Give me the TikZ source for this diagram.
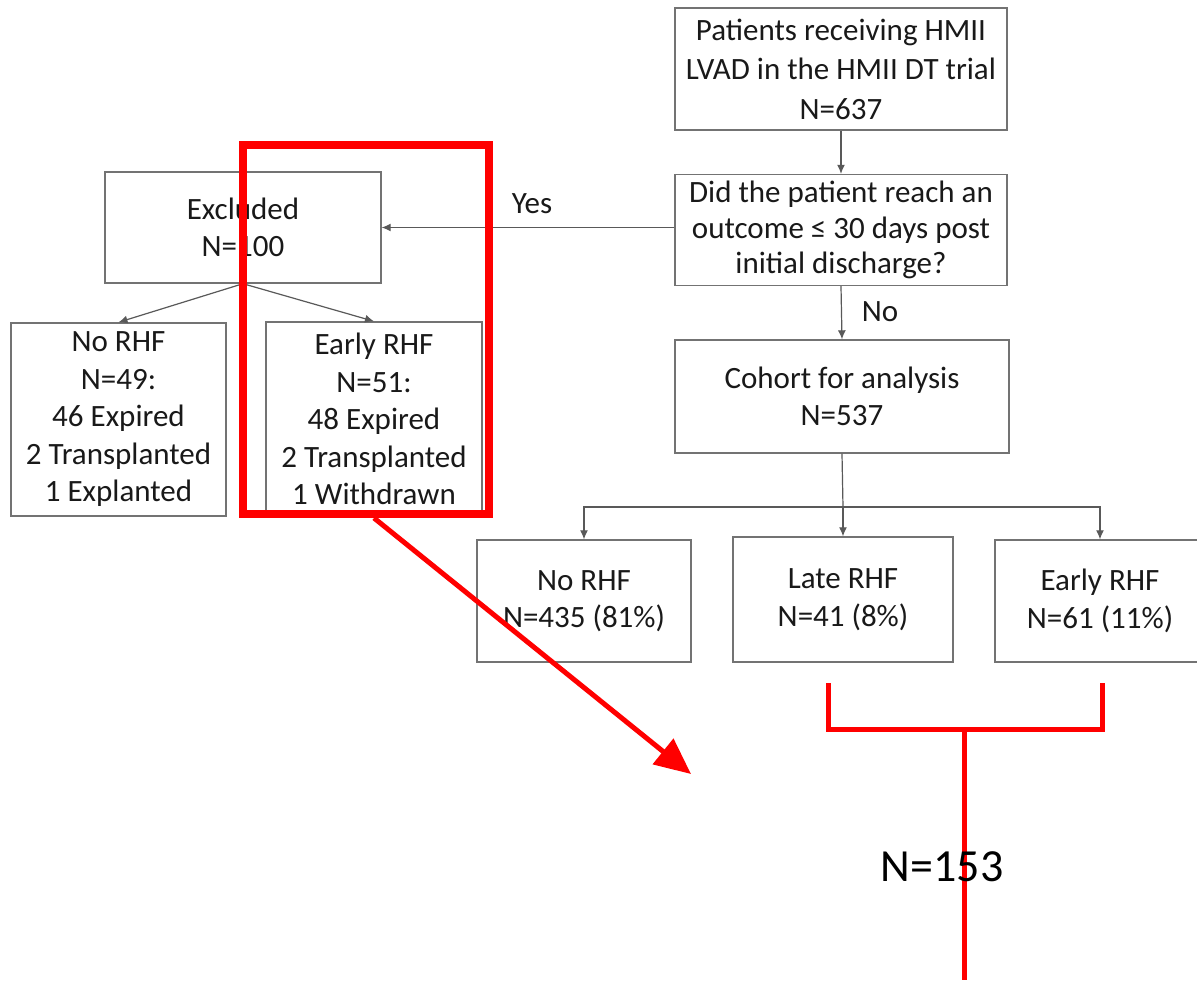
\documentclass[tikz,border=0pt]{standalone}
\usepackage{fontspec}
\setmainfont{Carlito}
\usetikzlibrary{arrows.meta}
\begin{document}
\begin{tikzpicture}[x=1pt,y=-1pt,
  box/.style={draw=black!55, line width=1.4pt, fill=white, align=center, inner sep=0pt,
    font=\fontsize{31}{37.5}\selectfont, text=black!90},
  conn/.style={draw=black!65, line width=1.2pt, -{Latex[length=9pt,width=8pt]}},
  lbl/.style={font=\fontsize{31}{37.5}\selectfont, text=black!90},
  hi/.style={draw=red, line width=8pt},
  hiline/.style={draw=red, line width=5pt}]
\useasboundingbox (0,0) rectangle (1197,981);
\fill[white] (0,0) rectangle (1197,981);

\node[box, minimum width=332, minimum height=122, font=\fontsize{31}{39.5}\selectfont] (top) at (841,69)
  {Patients receiving HMII\\LVAD in the HMII DT trial\\N=637};
\node[box, minimum width=332, minimum height=111, font=\fontsize{31}{35.5}\selectfont] (dec) at (841,230)
  {Did the patient reach an\\outcome ≤ 30 days post\\initial discharge?};
\node[box, minimum width=276, minimum height=111] (excl) at (243,227.5)
  {Excluded\\N=100};
\node[box, minimum width=215, minimum height=193] (noL) at (118.5,419.5)
  {No RHF\\N=49:\\46 Expired\\2 Transplanted\\1 Explanted};
\node[box, minimum width=216, minimum height=194] (earlyL) at (374,419)
  {Early RHF\\N=51:\\48 Expired\\2 Transplanted\\1 Withdrawn};
\node[box, minimum width=334, minimum height=113] (coh) at (842,396.5)
  {Cohort for analysis\\N=537};
\node[box, minimum width=214, minimum height=122] (noB) at (584,601)
  {No RHF\\N=435 (81\%)};
\node[box, minimum width=220, minimum height=125] (late) at (843,599.5)
  {Late RHF\\N=41 (8\%)};
\node[box, minimum width=210, minimum height=122] (earlyB) at (1100,601)
  {Early RHF\\N=61 (11\%)};

\draw[conn] (top.south) -- (dec.north);
\draw[conn] (dec.west |- excl.east) -- (excl.east);
\node[lbl] (yes) at (532,204) {Yes};
\draw[conn] (excl.south) -- (noL.north);
\draw[conn] (excl.south) -- (earlyL.north);
\draw[conn] (dec.south) -- (coh.north);
\node[lbl] (no) at (880,312) {No};
\coordinate (br) at (843,507);
\draw[draw=black!65, line width=1.2pt] (coh.south) -- (br);
\draw[conn] (br) -- (late.north);
\draw[conn] (br) -| (noB.north);
\draw[conn] (br) -| (earlyB.north);

% red annotations
\node[hi, minimum width=246, minimum height=369, inner sep=0pt] (hl) at (366,329.5) {};
\coordinate (tip) at (691,774);
\draw[hiline, -{Triangle[length=36pt,width=32pt]}] (374,518) -- (tip);
\coordinate (bl) at (828,683);
\coordinate (br2) at (1102,683);
\coordinate (bm) at (964,729);
\coordinate (bend) at (964,980);
\draw[hiline] (bl) |- (bm) -| (br2);
\draw[hiline] (bm) -- (bend);
\node[font=\fontsize{46}{50}\selectfont, text=black] (n153) at (942,867) {N=153};
\end{tikzpicture}
\end{document}
